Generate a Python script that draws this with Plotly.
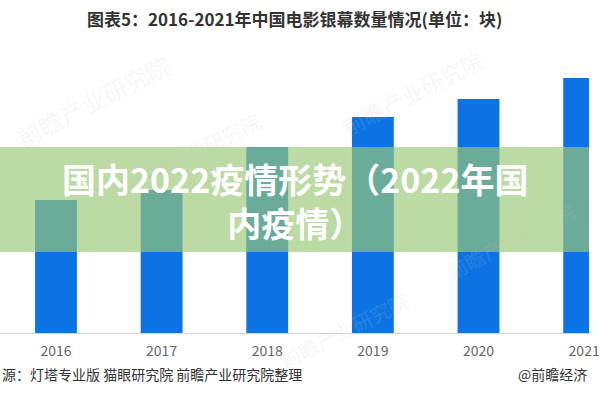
import plotly.graph_objects as go

years = ["2016", "2017", "2018", "2019", "2020", "2021"]
screens = [42900, 46100, 60000, 69700, 75500, 82250]

title_text = "图表5：2016-2021年中国电影银幕数量情况(单位：块)"
overlay_text = "国内2022疫情形势（2022年国<br>内疫情）"
source_text = "源：灯塔专业版 猫眼研究院 前瞻产业研究院整理"
brand_text = "@前瞻经济"
watermark_text = "前瞻产业研究院"

CJK = "Noto Sans CJK SC"

fig = go.Figure()
fig.add_trace(go.Bar(
    x=years, y=screens,
    marker=dict(color="#0b73e3", line=dict(width=0)),
    hoverinfo="x+y",
))

W, H = 600, 400
def py(pix):
    return 1 - pix / H

fig.update_layout(
    width=W, height=H,
    margin=dict(l=0, r=0, t=0, b=0),
    paper_bgcolor="white", plot_bgcolor="white",
    showlegend=False,
    bargap=0.604,
    xaxis=dict(
        type="category", range=[-0.53, 5.046],
        showgrid=False, zeroline=False,
        showline=True, linecolor="#d6d6d6", linewidth=1,
        ticks="", tickfont=dict(family=CJK, size=14, color="#666666"),
        ticklabelstandoff=5,
        domain=[0, 1],
    ),
    yaxis=dict(
        range=[0, 107400], domain=[py(333), 1],
        showgrid=False, zeroline=False, showticklabels=False, showline=False,
    ),
)

# faint watermarks
for (wx, wy, sz) in [(95, 100, 24), (420, 92, 22), (350, 330, 20), (200, 150, 20), (520, 240, 20)]:
    fig.add_annotation(
        x=wx / W, y=py(wy), xref="paper", yref="paper",
        xanchor="center", yanchor="middle",
        text=watermark_text, showarrow=False, textangle=-27,
        font=dict(family=CJK, size=sz, color="rgba(200,200,200,0.18)"),
    )

# green translucent band
fig.add_shape(
    type="rect", xref="paper", yref="paper",
    x0=0, x1=1, y0=py(252), y1=py(147),
    fillcolor="rgba(154,199,117,0.665)", line=dict(width=0), layer="above",
)

fig.add_annotation(
    x=0.5, y=py(201), xref="paper", yref="paper",
    xanchor="center", yanchor="middle",
    text="<b>" + overlay_text + "</b>", showarrow=False,
    font=dict(family=CJK, size=34, color="white"), align="center",
)

fig.add_annotation(
    x=0.5, y=py(18), xref="paper", yref="paper",
    xanchor="center", yanchor="middle",
    text="<b>" + title_text + "</b>", showarrow=False,
    font=dict(family=CJK, size=17, color="#333333"),
)

fig.add_annotation(
    x=0, y=py(374), xref="paper", yref="paper",
    xanchor="left", yanchor="middle",
    text=source_text, showarrow=False,
    font=dict(family=CJK, size=14, color="#333333"),
)

fig.add_annotation(
    x=1, y=py(374), xref="paper", yref="paper",
    xanchor="right", yanchor="middle",
    text=brand_text, showarrow=False,
    font=dict(family=CJK, size=14, color="#333333"),
)

fig.write_html("out.html")
